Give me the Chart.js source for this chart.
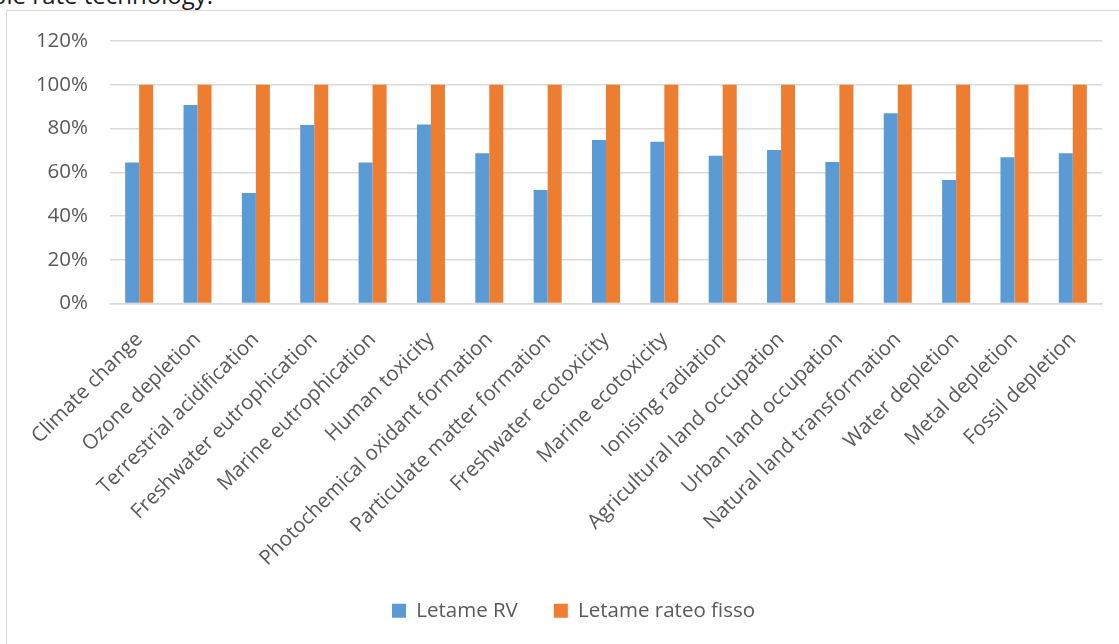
<!DOCTYPE html>
<html>
<head>
<meta charset="utf-8">
<script src="https://cdn.jsdelivr.net/npm/chart.js@4/dist/chart.umd.min.js"></script>
<style>
  html, body { margin: 0; padding: 0; background: #ffffff; overflow: hidden; }
  body { width: 1119px; height: 644px; position: relative; }
  #doc-line {
    position: absolute; left: 0; top: -17.3px; width: 213px; height: 24px;
    display: flex; justify-content: flex-end; white-space: nowrap;
    font-family: "Open Sans", sans-serif; font-size: 24px; line-height: 24px; color: #1a1a1a;
  }
  #frame {
    position: absolute; left: 6px; top: 10px; width: 1200px; height: 700px;
    border-top: 1.5px solid #d9d9d9; border-left: 1.5px solid #d9d9d9;
  }
  #wrap { position: absolute; left: 0; top: 0; width: 1119px; height: 644px; }
</style>
</head>
<body>
<div id="doc-line">variable rate technology.</div>
<div id="frame"></div>
<div id="wrap"><canvas id="chart"></canvas></div>
<script>
// Impact categories (ReCiPe midpoints)
const categories = [
  'Climate change', 'Ozone depletion', 'Terrestrial acidification',
  'Freshwater eutrophication', 'Marine eutrophication', 'Human toxicity',
  'Photochemical oxidant formation', 'Particulate matter formation',
  'Freshwater ecotoxicity', 'Marine ecotoxicity', 'Ionising radiation',
  'Agricultural land occupation', 'Urban land occupation',
  'Natural land transformation', 'Water depletion', 'Metal depletion',
  'Fossil depletion'
];

// Relative impacts, % of the fixed-rate scenario
const letameRV = [64.5, 90.7, 50.5, 81.6, 64.5, 81.8, 68.7, 51.9, 74.8, 73.9, 67.5, 70.2, 64.7, 87.0, 56.5, 66.9, 68.7];
const letameRateoFisso = [100, 100, 100, 100, 100, 100, 100, 100, 100, 100, 100, 100, 100, 100, 100, 100, 100];

const seriesNames = ['Letame RV', 'Letame rateo fisso'];
const yTickLabels = ['0%', '20%', '40%', '60%', '80%', '100%', '120%'];

const FONT = '"Open Sans", sans-serif';
const TEXT = '#595959';
const GRID = '#d9d9d9';

// Let the long rotated category labels and the y tick labels spill
// past their scale boxes instead of being clipped.
const labelRoom = {
  id: 'labelRoom',
  afterLayout(chart) {
    chart.scales.y.left = 0;
    chart.scales.x.bottom = chart.height;
  }
};

new Chart(document.getElementById('chart'), {
  type: 'bar',
  data: {
    labels: categories,
    datasets: [
      { label: seriesNames[0], data: letameRV, backgroundColor: '#5b9bd5', borderWidth: 0 },
      { label: seriesNames[1], data: letameRateoFisso, backgroundColor: '#ed7d31', borderWidth: 0 }
    ]
  },
  plugins: [labelRoom],
  options: {
    responsive: true,
    maintainAspectRatio: false,
    animation: false,
    datasets: { bar: { barPercentage: 1, categoryPercentage: 0.48 } },
    layout: { padding: { left: 45, right: 17, top: 41, bottom: 13 } },
    plugins: {
      tooltip: { enabled: false },
      legend: {
        position: 'bottom',
        labels: {
          font: { family: FONT, size: 20.5 },
          color: TEXT,
          boxWidth: 14,
          boxHeight: 14,
          padding: 36
        }
      }
    },
    scales: {
      x: {
        grid: { display: false, drawTicks: false },
        border: { display: true, color: GRID, width: 1.5 },
        ticks: {
          font: { family: FONT, size: 20.5 },
          color: TEXT,
          autoSkip: false,
          maxRotation: 45,
          minRotation: 45,
          padding: 24
        },
        afterFit: (scale) => { scale.height = 261; }
      },
      y: {
        min: 0,
        max: 120,
        grid: { color: GRID, lineWidth: 1.5, drawTicks: false },
        border: { display: false },
        ticks: {
          stepSize: 20,
          font: { family: FONT, size: 20.5 },
          color: TEXT,
          padding: 22,
          callback: (value) => yTickLabels[Math.round(value / 20)]
        },
        afterFit: (scale) => { scale.width = 65; }
      }
    }
  }
});
</script>
</body>
</html>
